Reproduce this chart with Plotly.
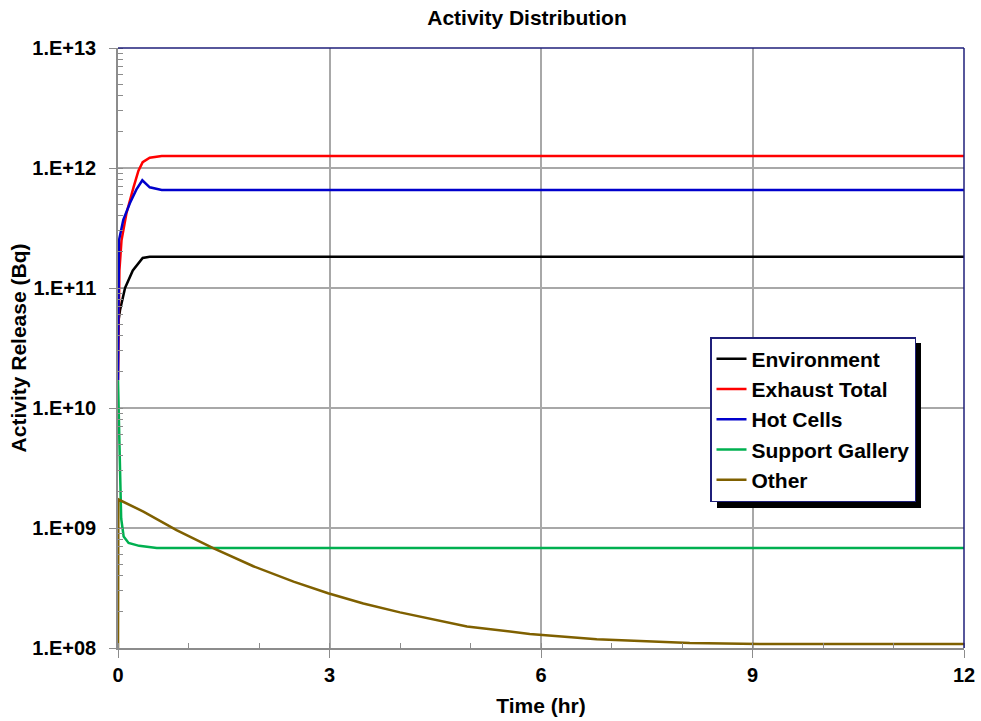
import plotly.graph_objects as go

# ---- data ----
env_t = [0, 0.03, 0.1, 0.21, 0.35, 0.45, 12]
env_v = [5.0e10, 6.6e10, 1.0e11, 1.4e11, 1.78e11, 1.82e11, 1.82e11]

exh_t = [0, 0.01, 0.02, 0.05, 0.12, 0.22, 0.29, 0.35, 0.45, 0.62, 12]
exh_v = [1.7e10, 6.0e10, 1.4e11, 2.5e11, 4.2e11, 6.9e11, 9.5e11, 1.12e12, 1.22e12, 1.26e12, 1.26e12]

hot_t = [0, 0.005, 0.014, 0.075, 0.17, 0.26, 0.345, 0.45, 0.62, 12]
hot_v = [1.7e10, 2.0e11, 2.5e11, 3.7e11, 5.1e11, 6.6e11, 7.9e11, 6.9e11, 6.56e11, 6.56e11]

sup_t = [0, 0.01, 0.028, 0.045, 0.08, 0.15, 0.3, 0.55, 12]
sup_v = [1.7e10, 8.0e9, 3.7e9, 1.2e9, 8.5e8, 7.5e8, 7.1e8, 6.8e8, 6.8e8]

oth_t = [0, 0.005, 0.36, 0.83, 1.35, 1.92, 2.49, 2.98, 3.48, 4.0, 4.95, 5.84, 6.79, 7.55, 8.11, 9.1, 10.5, 12]
oth_v = [1.0e8, 1.73e9, 1.37e9, 9.6e8, 6.8e8, 4.8e8, 3.57e8, 2.86e8, 2.35e8, 1.98e8, 1.51e8, 1.31e8,
         1.18e8, 1.13e8, 1.10e8, 1.08e8, 1.08e8, 1.08e8]

series_names = ["Environment", "Exhaust Total", "Hot Cells", "Support Gallery", "Other"]
y_tick_vals = [1e8, 1e9, 1e10, 1e11, 1e12, 1e13]
y_tick_text = ["1.E+08", "1.E+09", "1.E+10", "1.E+11", "1.E+12", "1.E+13"]
x_tick_vals = [0, 3, 6, 9, 12]

# ---- styling ----
colors = ["#000000", "#ff0000", "#0000cc", "#00b050", "#7f6000"]
FONT = "Liberation Sans, Arial, sans-serif"
AXIS_GRAY = "#8c8c8c"
GRID_GRAY = "#a8a8a8"
NAVY = "#1f1f7a"

fig = go.Figure()
for name, t, v, c in zip(series_names,
                         [env_t, exh_t, hot_t, sup_t, oth_t],
                         [env_v, exh_v, hot_v, sup_v, oth_v],
                         colors):
    fig.add_trace(go.Scatter(x=t, y=v, mode="lines", name=name,
                             line=dict(color=c, width=2.5)))

L, R, T, B = 118, 17, 48, 73
W, H = 981, 721
pw, ph = W - L - R, H - T - B

# legend box geometry in pixels
lg_left, lg_top, lg_right, lg_bottom = 710, 337, 914, 502
def px_x(p):
    return (p - L) / pw
def px_y(p):
    return (H - B - p) / ph

fig.update_layout(
    width=W, height=H,
    margin=dict(l=L, r=R, t=T, b=B, autoexpand=False),
    paper_bgcolor="white", plot_bgcolor="white",
    font=dict(family=FONT, size=20, color="black", weight="bold"),
    title=dict(text="Activity Distribution", x=527 / W, xanchor="center",
               y=1 - 18 / H, yanchor="middle", yref="container",
               font=dict(family=FONT, size=21, weight="bold", color="black")),
    xaxis=dict(
        range=[0, 12], tickvals=x_tick_vals, automargin=False,
        showgrid=True, gridcolor=GRID_GRAY, gridwidth=1.5,
        showline=True, linecolor=AXIS_GRAY, linewidth=1.5,
        ticks="outside", ticklen=8, tickcolor=AXIS_GRAY, tickwidth=1,
        minor=dict(dtick=1, ticks="inside", ticklen=5, tickcolor=AXIS_GRAY, showgrid=False),
        tickfont=dict(family=FONT, size=20, weight="bold"),
        title=dict(text="Time (hr)", font=dict(family=FONT, size=21, weight="bold"), standoff=14),
        zeroline=False,
    ),
    yaxis=dict(
        type="log", range=[8, 13], tickvals=y_tick_vals, ticktext=y_tick_text, automargin=False,
        showgrid=True, gridcolor=GRID_GRAY, gridwidth=1.5,
        showline=True, linecolor=AXIS_GRAY, linewidth=1.5,
        ticks="outside", ticklen=7, tickcolor=AXIS_GRAY, tickwidth=1,
        minor=dict(dtick="D1", ticks="inside", ticklen=5, tickcolor=AXIS_GRAY, showgrid=False),
        tickfont=dict(family=FONT, size=20, weight="bold"),
        ticklabelstandoff=9,
        title=dict(text="Activity Release (Bq)", font=dict(family=FONT, size=21, weight="bold"), standoff=0),
        zeroline=False,
    ),
    legend=dict(
        x=px_x(lg_left), y=px_y(lg_top), xanchor="left", yanchor="top",
        bgcolor="white", bordercolor=NAVY, borderwidth=1.5,
        font=dict(family=FONT, size=21, weight="bold", color="black"),
        itemwidth=30, tracegroupgap=0,
    ),
    showlegend=True,
    shapes=[
        # legend drop shadow
        dict(type="rect", xref="paper", yref="paper",
             x0=px_x(lg_left + 7), x1=px_x(lg_right + 7),
             y0=px_y(lg_bottom + 6), y1=px_y(lg_top + 6),
             fillcolor="black", line=dict(width=0), layer="above"),
        # top and right frame in navy
        dict(type="line", xref="paper", yref="paper", x0=0, x1=1, y0=1, y1=1,
             line=dict(color=NAVY, width=1.5), layer="above"),
        dict(type="line", xref="paper", yref="paper", x0=1, x1=1, y0=0, y1=1,
             line=dict(color=NAVY, width=1.5), layer="above"),
    ],
)

fig.write_html("out.html", config={"displayModeBar": False},
               post_script="document.body.style.margin='0';")
